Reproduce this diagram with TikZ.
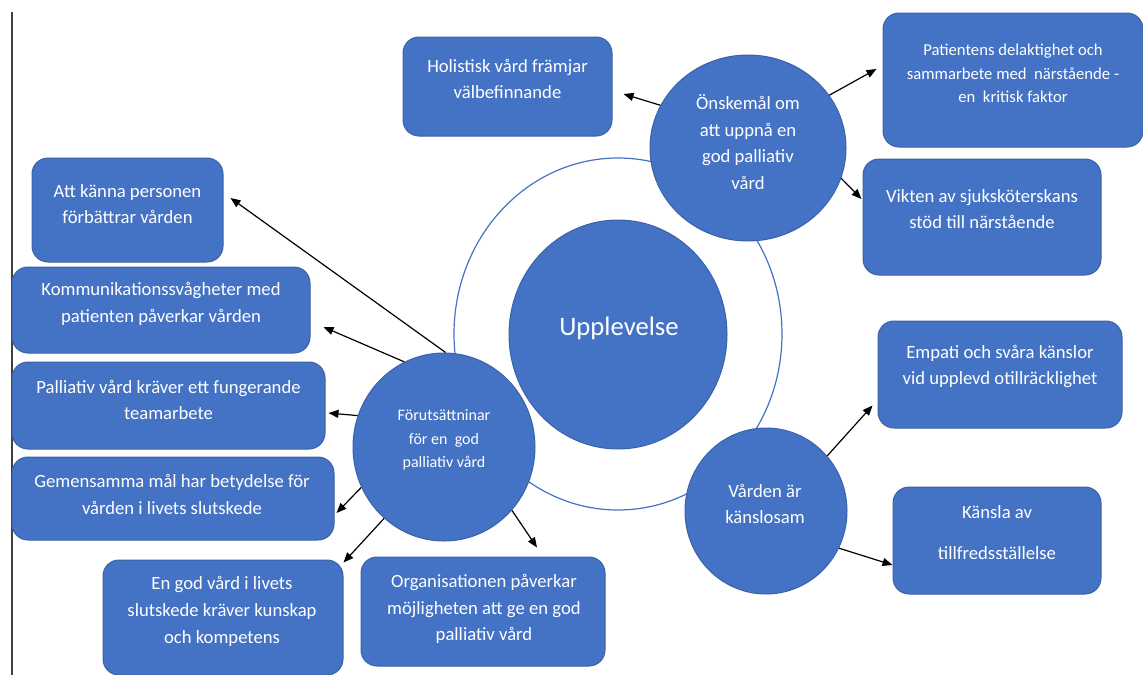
\documentclass[tikz,border=0pt]{standalone}
\usepackage{fontspec}
\setmainfont{Carlito}
\usetikzlibrary{shapes.geometric,arrows.meta,calc}
\definecolor{obl}{HTML}{4472C4}
\definecolor{obd}{HTML}{3A62A8}
\definecolor{vline}{HTML}{404040}
\newcommand{\mkbox}[5]{\node[bx, minimum width={(#3-#1)*0.75pt}, minimum height={(#4-#2)*0.75pt}] (#5) at ({(#1+#3)/2},{(#2+#4)/2}) {};}
\newcommand{\mkell}[5]{\node[el, minimum width={2*#3*0.75pt}, minimum height={2*#4*0.75pt}] (#5) at (#1,#2) {};}
\begin{document}
\begin{tikzpicture}[x=0.75pt,y=-0.75pt,
  bx/.style={draw=obd, line width=0.75pt, fill=obl, rounded corners=12pt, inner sep=0pt},
  el/.style={ellipse, draw=obd, line width=0.75pt, fill=obl, inner sep=0pt},
  tx/.style={text=white, align=center, inner sep=0pt, font=\fontsize{14}{20}\selectfont},
  arr/.style={-{Triangle[length=7.5pt,width=6pt]}, line width=0.9pt, black}]
\useasboundingbox (0,0) rectangle (1143,675);
\fill[white] (0,0) rectangle (1143,675);
\draw[vline, line width=1.1pt] (12,12) -- (12,675);

% ring
\node[ellipse, draw=obl, line width=0.9pt, minimum width={2*164*0.75pt}, minimum height={2*176*0.75pt}, inner sep=0pt] (ring) at (618,334) {};

% circles
\mkell{618}{334.5}{109}{114.5}{upp}
\mkell{748}{148}{98}{93}{ons}
\mkell{444}{447}{91}{94}{fo}
\mkell{766}{511}{81}{83}{va}

\node[tx, font=\fontsize{20}{24}\selectfont] (upp-t) at (619,328) {Upplevelse};
\node[tx] (ons-t) at (748,142) {Önskemål om\\att uppnå en\\god palliativ\\vård};
\node[tx, font=\fontsize{12}{17.6}\selectfont] (fo-t) at (444,440) {Förutsättninar\\för en~ god\\palliativ vård};
\node[tx, font=\fontsize{14}{19.5}\selectfont] (va-t) at (765,504) {Vården är\\känslosam};

% boxes
\mkbox{403}{37}{612}{136}{hol}
\mkbox{883}{13}{1143}{147}{pat}
\mkbox{863}{159}{1101}{275}{vik}
\mkbox{32}{158}{223}{262}{att}
\mkbox{12}{267}{310}{353}{kom}
\mkbox{12}{362}{325}{449}{pal}
\mkbox{12}{457}{334}{540}{gem}
\mkbox{103}{560}{343}{675}{eng}
\mkbox{361}{557}{605}{666}{org}
\mkbox{878}{321}{1122}{428}{emp}
\mkbox{893}{487}{1101}{594}{kan}

\node[tx] (hol-t) at (507.5,79) {Holistisk vård främjar\\välbefinnande};
\node[tx, font=\fontsize{12.5}{17.8}\selectfont] (pat-t) at (1013,73.5) {Patientens delaktighet och\\sammarbete med~ närstående -\\en~ kritisk faktor};
\node[tx] (vik-t) at (982,209) {Vikten av sjuksköterskans\\stöd till närstående};
\node[tx] (att-t) at (127.5,204) {Att känna personen\\förbättrar vården};
\node[tx] (kom-t) at (161,304) {Kommunikationssvågheter med\\patienten påverkar vården};
\node[tx] (pal-t) at (168.5,400) {Palliativ vård kräver ett fungerande\\teamarbete};
\node[tx] (gem-t) at (172,494.5) {Gemensamma mål har betydelse för\\vården i livets slutskede};
\node[tx] (eng-t) at (222,611.5) {En god vård i livets\\slutskede kräver kunskap\\och kompetens};
\node[tx] (org-t) at (484,609) {Organisationen påverkar\\möjligheten att ge en god\\palliativ vård};
\node[tx] (emp-t) at (1000,366.5) {Empati och svåra känslor\\vid upplevd otillräcklighet};
\node[tx, font=\fontsize{14}{30.75}\selectfont] (kan-t) at (997,532.5) {Känsla av\\tillfredsställelse};

% arrows
\draw[arr] (ons.154) -- ($(hol.east)+(11,7.5)$);
\draw[arr] (ons.33) -- ($(pat.west)+(-6,-11)$);
\draw[arr] (ons.342) -- ($(vik.west)+(-1,-18)$);
\draw[arr] (fo.89) -- ($(att.east)+(7,-12)$);
\draw[arr] (fo.115) -- ($(kom.east)+(13,17)$);
\draw[arr] (fo.160) -- ($(pal.east)+(3,7.5)$);
\draw[arr] (fo.206) -- ($(gem.east)+(2,14.5)$);
\draw[arr] (fo.230) -- ($(eng.north east)+(0,3)$);
\draw[arr] (fo.317) -- ($(org.north)+(54,-9)$);
\draw[arr] (va.42) -- ($(emp.south west)+(-5,-23)$);
\draw[arr] (va.333) -- ($(kan.west)+(0,24.5)$);
\end{tikzpicture}
\end{document}
